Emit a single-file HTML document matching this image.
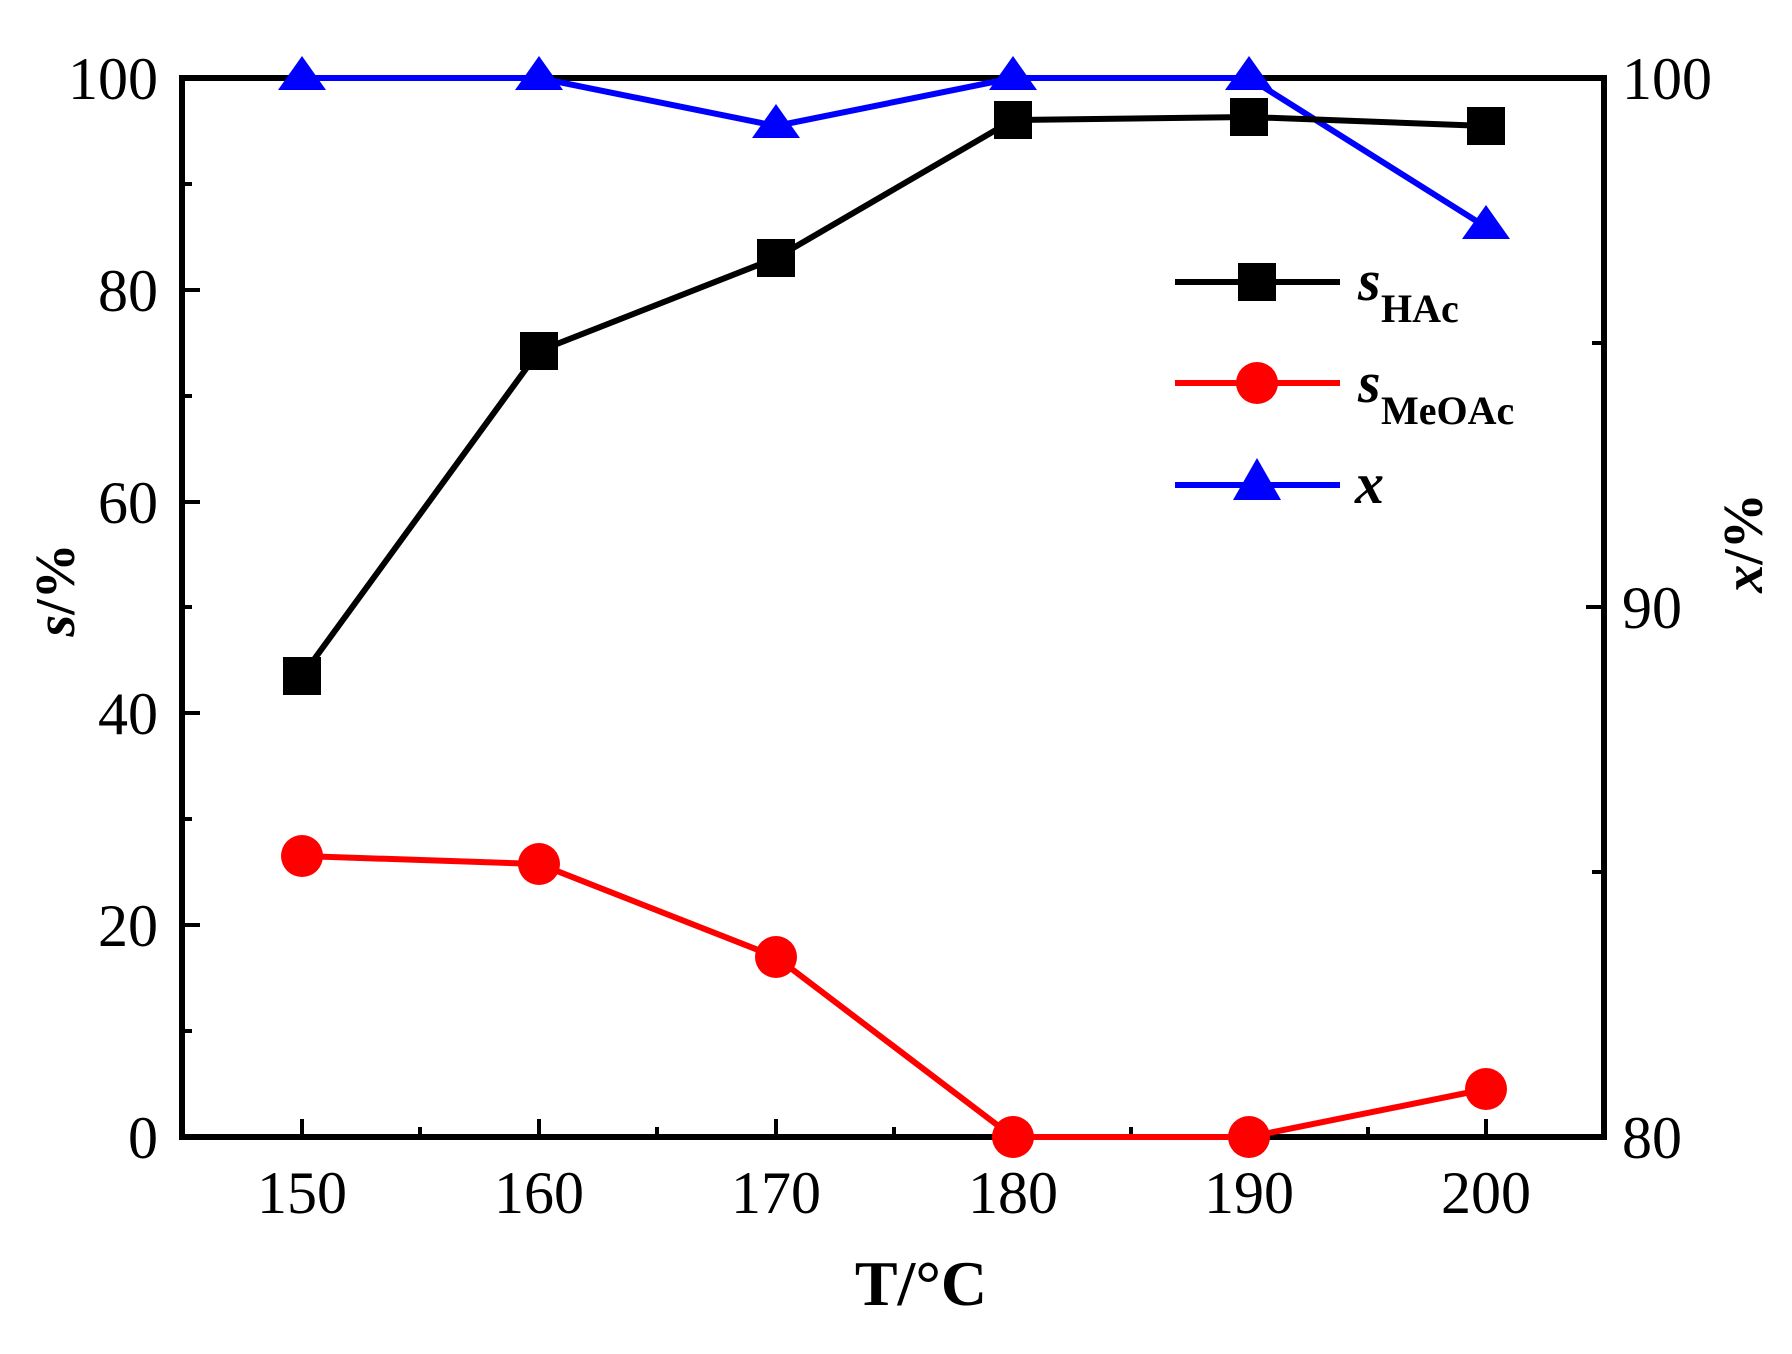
<!DOCTYPE html>
<html><head><meta charset="utf-8"><style>html,body{margin:0;padding:0;background:#fff}</style></head>
<body>
<svg width="1792" height="1349" viewBox="0 0 1792 1349" xmlns="http://www.w3.org/2000/svg" font-family="Liberation Serif, serif">
<rect width="1792" height="1349" fill="#fff"/>
<g stroke="#000" stroke-width="4">
<line x1="182" y1="78" x2="200" y2="78"/><line x1="182" y1="290" x2="200" y2="290"/><line x1="182" y1="502" x2="200" y2="502"/><line x1="182" y1="713" x2="200" y2="713"/><line x1="182" y1="925" x2="200" y2="925"/>
<line x1="182" y1="184" x2="192" y2="184"/><line x1="182" y1="396" x2="192" y2="396"/><line x1="182" y1="607" x2="192" y2="607"/><line x1="182" y1="819" x2="192" y2="819"/><line x1="182" y1="1031" x2="192" y2="1031"/>
<line x1="1604" y1="607" x2="1586" y2="607"/><line x1="1604" y1="343" x2="1592" y2="343"/><line x1="1604" y1="872" x2="1592" y2="872"/>
<line x1="302" y1="1137" x2="302" y2="1119"/><line x1="539" y1="1137" x2="539" y2="1119"/><line x1="776" y1="1137" x2="776" y2="1119"/><line x1="1013" y1="1137" x2="1013" y2="1119"/><line x1="1249" y1="1137" x2="1249" y2="1119"/><line x1="1486" y1="1137" x2="1486" y2="1119"/>
<line x1="420" y1="1137" x2="420" y2="1127"/><line x1="657" y1="1137" x2="657" y2="1127"/><line x1="894" y1="1137" x2="894" y2="1127"/><line x1="1131" y1="1137" x2="1131" y2="1127"/><line x1="1368" y1="1137" x2="1368" y2="1127"/>
</g>
<rect x="182" y="78" width="1422" height="1059" fill="none" stroke="#000" stroke-width="6"/>
<g font-size="60" text-anchor="end" fill="#000">
<text x="158" y="99">100</text><text x="158" y="311">80</text><text x="158" y="523">60</text><text x="158" y="734">40</text><text x="158" y="946">20</text><text x="158" y="1158">0</text>
</g>
<g font-size="60" text-anchor="start" fill="#000">
<text x="1622" y="99">100</text><text x="1622" y="628">90</text><text x="1622" y="1158">80</text>
</g>
<g font-size="60" text-anchor="middle" fill="#000">
<text x="302" y="1213">150</text><text x="539" y="1213">160</text><text x="776" y="1213">170</text><text x="1013" y="1213">180</text><text x="1249" y="1213">190</text><text x="1486" y="1213">200</text>
</g>
<text x="921" y="1305" font-size="64" font-weight="bold" text-anchor="middle">T/°C</text>
<text transform="translate(74,590) rotate(-90)" font-size="56" font-weight="bold" text-anchor="middle"><tspan font-style="italic">s</tspan>/%</text>
<text transform="translate(1762,543) rotate(-90)" font-size="56" font-weight="bold" text-anchor="middle"><tspan font-style="italic">x</tspan>/%</text>
<polyline points="302,78 539,78 776,126 1013,78 1249,78 1486,227" fill="none" stroke="#0000ff" stroke-width="6"/>
<polyline points="302,676 539,351 776,258 1013,120 1249,117 1486,126" fill="none" stroke="#000" stroke-width="6"/>
<polyline points="302,856 539,864 776,957 1013,1137 1249,1137 1486,1089" fill="none" stroke="#ff0000" stroke-width="6"/>
<g fill="#000">
<rect x="283" y="657" width="38" height="38"/><rect x="520" y="332" width="38" height="38"/><rect x="757" y="239" width="38" height="38"/><rect x="994" y="101" width="38" height="38"/><rect x="1230" y="98" width="38" height="38"/><rect x="1467" y="107" width="38" height="38"/>
</g>
<g fill="#ff0000">
<circle cx="302" cy="856" r="21"/><circle cx="539" cy="864" r="21"/><circle cx="776" cy="957" r="21"/><circle cx="1013" cy="1137" r="21"/><circle cx="1249" cy="1137" r="21"/><circle cx="1486" cy="1089" r="21"/>
</g>
<g fill="#0000ff">
<polygon points="302,56 326,90 278,90"/><polygon points="539,56 563,90 515,90"/><polygon points="776,104 800,138 752,138"/><polygon points="1013,56 1037,90 989,90"/><polygon points="1249,56 1273,90 1225,90"/><polygon points="1486,205 1510,239 1462,239"/>
</g>
<line x1="1175" y1="282" x2="1340" y2="282" stroke="#000" stroke-width="6"/>
<rect x="1238" y="263" width="38" height="38" fill="#000"/>
<line x1="1175" y1="383" x2="1340" y2="383" stroke="#ff0000" stroke-width="6"/>
<circle cx="1257" cy="383" r="21" fill="#ff0000"/>
<line x1="1175" y1="485" x2="1340" y2="485" stroke="#0000ff" stroke-width="6"/>
<polygon points="1257,458 1281,500 1233,500" fill="#0000ff"/>
<g font-weight="bold" fill="#000">
<text x="1358" y="300" font-size="58" font-style="italic">s</text><text x="1381" y="322" font-size="40">HAc</text>
<text x="1358" y="402" font-size="58" font-style="italic">s</text><text x="1381" y="424" font-size="40">MeOAc</text>
<text x="1355" y="503" font-size="58" font-style="italic">x</text>
</g>
</svg>
</body></html>
